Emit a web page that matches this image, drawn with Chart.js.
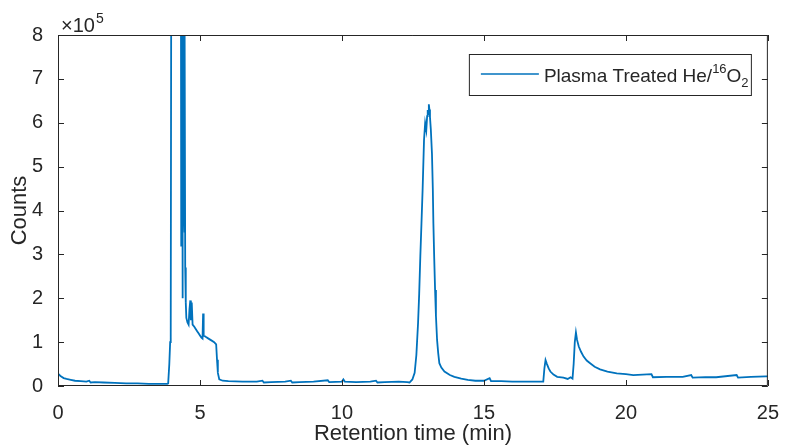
<!DOCTYPE html>
<html>
<head>
<meta charset="utf-8">
<script src="https://cdn.jsdelivr.net/npm/chart.js@4.4.0/dist/chart.umd.min.js"></script>
<style>
    html, body { margin: 0; padding: 0; background: #fff; }
</style>
</head>
<body>
<canvas id="gc-chart" width="786" height="446"></canvas>
<script>
// retention time (min) and counts (x 10^5)
const retentionTime = [
    0, 0.05, 0.1, 0.2, 0.3, 0.45, 0.6, 0.8, 1.0, 1.1, 1.15, 1.3, 1.6, 2.0, 2.4, 2.8, 3.2, 3.6, 3.85,
    3.88, 3.92, 3.95, 3.97, 4.0, 4.3,
    4.33, 4.34, 4.35, 4.36, 4.37, 4.38, 4.39, 4.4, 4.41, 4.42, 4.43, 4.44, 4.45, 4.46, 4.47, 4.48,
    4.5, 4.52, 4.56, 4.6, 4.63, 4.66, 4.68, 4.71, 4.74, 4.8, 4.85, 4.9, 4.95, 5.0, 5.05, 5.09, 5.11, 5.13,
    5.2, 5.3, 5.4, 5.5, 5.57, 5.6, 5.63, 5.68, 5.8,
    6.0, 6.5, 7.0, 7.2, 7.25, 7.5, 8.0, 8.2, 8.25, 8.5, 9.0, 9.5, 9.55, 10.0, 10.05, 10.1, 10.5, 11.0,
    11.2, 11.25, 11.5, 12.0, 12.3,
    12.38, 12.48, 12.56, 12.62, 12.68, 12.72, 12.76, 12.8, 12.84, 12.89, 12.93, 12.97, 13.0, 13.02, 13.04,
    13.06, 13.08, 13.1, 13.13, 13.17, 13.2, 13.22, 13.25, 13.28, 13.31, 13.35, 13.39, 13.43, 13.5, 13.61,
    13.8, 13.96, 14.2, 14.43,
    14.7, 15.0, 15.2, 15.25, 15.6, 16.0, 16.5, 17.05,
    17.09, 17.13, 17.17, 17.22, 17.28, 17.34, 17.45, 17.58, 17.8, 17.95, 18.05, 18.12, 18.16, 18.2, 18.24,
    18.28, 18.34, 18.42, 18.51, 18.62, 18.74, 18.9, 19.09, 19.35, 19.68, 20.0, 20.26, 20.9, 20.95,
    21.43, 22.0, 22.3, 22.35, 22.8, 23.18, 23.9, 23.95, 24.4, 24.93, 25.0
];
const countsE5 = [
    0.28, 0.25, 0.22, 0.18, 0.16, 0.14, 0.12, 0.11, 0.10, 0.12, 0.08, 0.09, 0.08, 0.07, 0.06, 0.06, 0.05, 0.05, 0.05,
    0.06, 0.5, 1.0, 1.1, 15, 15,
    9, 3.2, 8.5, 4, 8.8, 2.0, 7, 3.6, 9, 4.5, 9, 4, 9, 3.5, 8, 2.7,
    1.9, 1.55, 1.45, 1.4, 1.75, 1.95, 1.5, 1.9, 1.4, 1.35, 1.3, 1.25, 1.2, 1.15, 1.1, 1.08, 1.65, 1.15,
    1.12, 1.08, 1.04, 1.0, 0.95, 0.6, 0.3, 0.15, 0.12,
    0.11, 0.1, 0.1, 0.12, 0.08, 0.09, 0.1, 0.12, 0.08, 0.09, 0.1, 0.13, 0.09, 0.1, 0.15, 0.1, 0.09, 0.1,
    0.12, 0.08, 0.09, 0.1, 0.09,
    0.08, 0.15, 0.3, 0.7, 1.43, 2.1, 2.95, 3.7, 4.46, 5.6, 5.99, 5.83, 6.15, 6.29, 6.2,
    6.42, 6.3, 6.13, 5.85, 5.3, 4.5, 3.71, 2.9, 2.19, 1.6, 1.05, 0.75, 0.52, 0.42, 0.33,
    0.25, 0.21, 0.17, 0.14,
    0.12, 0.12, 0.18, 0.11, 0.11, 0.1, 0.1, 0.1,
    0.1, 0.4, 0.59, 0.5, 0.4, 0.33, 0.26, 0.21, 0.19, 0.16, 0.2, 0.17, 0.5, 1.0, 1.22,
    1.05, 0.9, 0.78, 0.67, 0.58, 0.52, 0.44, 0.38, 0.33, 0.29, 0.27, 0.25, 0.27, 0.2,
    0.21, 0.21, 0.25, 0.19, 0.2, 0.2, 0.25, 0.19, 0.21, 0.22, 0.22
];
const xTicks = [0, 5, 10, 15, 20, 25];
const yTicks = [0, 1, 2, 3, 4, 5, 6, 7, 8];
const seriesLabel = 'Plasma Treated He/';

const axisColor = '#262626';
const lineColor = '#0072BD';
const fontFamily = '"Liberation Sans", Arial, Helvetica, sans-serif';

// box round the axes, with MATLAB style inward ticks on all four sides
const boxPlugin = {
    id: 'matlabBox',
    afterDatasetsDraw(chart) {
        const { ctx, chartArea: a, scales } = chart;
        const len = 6;
        ctx.save();
        ctx.strokeStyle = axisColor;
        ctx.lineWidth = 1;
        ctx.beginPath();
        ctx.rect(a.left + 0.5, a.top + 0.5, a.right - a.left - 1, a.bottom - a.top - 1);
        xTicks.forEach(v => {
            const x = Math.round(scales.x.getPixelForValue(v)) + 0.5;
            ctx.moveTo(x, a.bottom); ctx.lineTo(x, a.bottom - len);
            ctx.moveTo(x, a.top); ctx.lineTo(x, a.top + len);
        });
        yTicks.forEach(v => {
            const y = Math.round(scales.y.getPixelForValue(v)) + 0.5;
            ctx.moveTo(a.left, y); ctx.lineTo(a.left + len, y);
            ctx.moveTo(a.right, y); ctx.lineTo(a.right - len, y);
        });
        ctx.stroke();

        // x10^5 multiplier above the y axis
        ctx.fillStyle = axisColor;
        ctx.textBaseline = 'alphabetic';
        ctx.font = '20px ' + fontFamily;
        ctx.fillText('\u00d710', a.left + 3, a.top - 3);
        const w = ctx.measureText('\u00d710').width;
        ctx.font = '14px ' + fontFamily;
        ctx.fillText('5', a.left + 4 + w, a.top - 12);

        // legend
        const bw = 282, bh = 41;
        const bx = a.right - 17 - bw, by = a.top + 19;
        ctx.fillStyle = '#fff';
        ctx.fillRect(bx, by, bw, bh);
        ctx.strokeRect(bx + 0.5, by + 0.5, bw, bh);
        const ly = by + 20;
        ctx.strokeStyle = lineColor;
        ctx.lineWidth = 1.5;
        ctx.beginPath();
        ctx.moveTo(bx + 12, ly); ctx.lineTo(bx + 70, ly);
        ctx.stroke();
        ctx.fillStyle = axisColor;
        let tx = bx + 75;
        const base = by + 28;
        ctx.font = '19px ' + fontFamily;
        ctx.fillText(seriesLabel, tx, base);
        tx += ctx.measureText(seriesLabel).width;
        ctx.font = '13px ' + fontFamily;
        ctx.fillText('16', tx, base - 9);
        tx += ctx.measureText('16').width;
        ctx.font = '19px ' + fontFamily;
        ctx.fillText('O', tx, base);
        tx += ctx.measureText('O').width;
        ctx.font = '13px ' + fontFamily;
        ctx.fillText('2', tx, base + 5);
        ctx.restore();
    }
};

const points = retentionTime.map((t, i) => ({ x: t, y: countsE5[i] }));

new Chart(document.getElementById('gc-chart').getContext('2d'), {
    type: 'line',
    data: {
        datasets: [{
            label: seriesLabel,
            data: points,
            borderColor: lineColor,
            backgroundColor: lineColor,
            borderWidth: 1.8,
            pointRadius: 0,
            tension: 0,
            fill: false
        }]
    },
    options: {
        responsive: false,
        animation: false,
        layout: { padding: { top: 35, right: 14, left: 0, bottom: 0 } },
        plugins: { legend: { display: false }, tooltip: { enabled: false } },
        scales: {
            x: {
                type: 'linear',
                min: 0,
                max: 25,
                afterBuildTicks: s => { s.ticks = xTicks.map(v => ({ value: v })); },
                afterFit: s => { s.height = 60; },
                grid: { display: false },
                border: { display: false },
                ticks: {
                    autoSkip: false,
                    maxRotation: 0,
                    padding: 7,
                    color: axisColor,
                    font: { family: fontFamily, size: 20 }
                },
                title: {
                    display: true,
                    text: 'Retention time (min)',
                    color: axisColor,
                    padding: { top: 0, bottom: 0 },
                    font: { family: fontFamily, size: 22, lineHeight: 1.1 }
                }
            },
            y: {
                min: 0,
                max: 8,
                afterBuildTicks: s => { s.ticks = yTicks.map(v => ({ value: v })); },
                afterFit: s => { s.width = 58; },
                grid: { display: false },
                border: { display: false },
                ticks: {
                    padding: 7,
                    color: axisColor,
                    font: { family: fontFamily, size: 20 }
                },
                title: {
                    display: true,
                    text: 'Counts',
                    color: axisColor,
                    padding: { top: 8, bottom: 0 },
                    font: { family: fontFamily, size: 22, lineHeight: 1.1 }
                }
            }
        }
    },
    plugins: [boxPlugin]
});
</script>
</body>
</html>
